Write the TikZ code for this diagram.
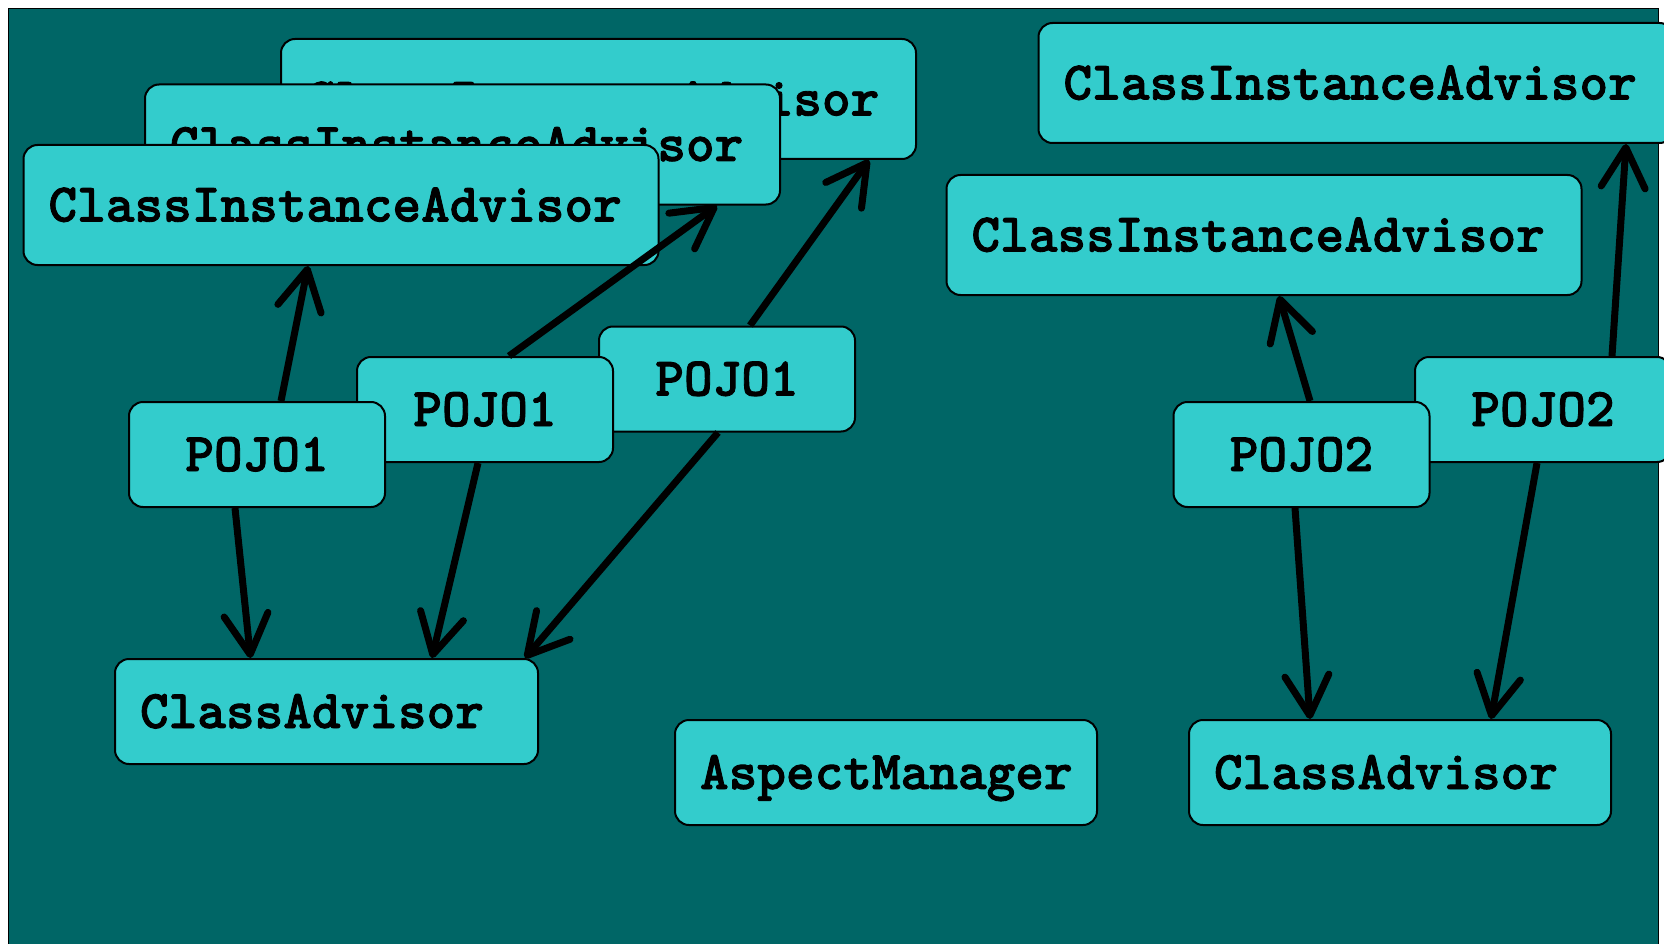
\documentclass[tikz,border=0pt]{standalone}
\usepackage{fontspec}
\usetikzlibrary{arrows.meta}
\newfontfamily\boxfont{lmmonolt10-bold.otf}[FakeBold=1.6]
\definecolor{bgteal}{RGB}{0,102,102}
\definecolor{boxcyan}{RGB}{51,204,204}
\tikzset{
  box/.style={draw=black, line width=2pt, fill=boxcyan, rounded corners=14pt,
    font=\boxfont\fontsize{54.6}{60}\selectfont,
    text height=33pt, text depth=0pt, inner ysep=0pt},
  widebox/.style={box, inner xsep=25pt, text width=#1, align=left},
  ciabox/.style={widebox=585pt, minimum height=120pt},
  pojobox/.style={box, minimum width=256pt, minimum height=105pt, align=center},
  lowbox/.style={widebox=#1, minimum height=105pt},
  link/.style={draw=black, line width=7pt,
    -{Straight Barb[length=40pt,width=44pt,round]}}
}
\begin{document}
\begin{tikzpicture}[x=1pt, y=-1pt]
  \useasboundingbox (0,0) rectangle (1664,944);
  \fill[white] (0,0) rectangle (1664,944);
  \draw[line width=1.2pt, fill=bgteal] (8.5,8.5) rectangle (1658.5,960);

  % stacked advisors, back to front
  \node[ciabox] (cia1) at (598.5,99) {ClassInstanceAdvisor};
  \node[ciabox] (cia2) at (462.5,144.5) {ClassInstanceAdvisor};
  \node[ciabox] (cia3) at (341,205) {ClassInstanceAdvisor};

  % POJO1 instances, back to front
  \node[pojobox] (pc) at (727,379) {POJO1};
  \node[pojobox] (pb) at (485,409.5) {POJO1};
  \node[pojobox] (pa) at (257,454.5) {POJO1};

  % right-hand advisors
  \node[ciabox] (cia4) at (1356,83) {ClassInstanceAdvisor};
  \node[ciabox] (cia5) at (1264,235) {ClassInstanceAdvisor};

  % POJO2 instances
  \node[pojobox] (pe) at (1543,409.5) {POJO2};
  \node[pojobox] (pd) at (1301.5,454.5) {POJO2};

  % bottom row
  \node[lowbox=373pt] (ca1) at (326.5,711.5) {ClassAdvisor};
  \node[lowbox=372pt] (am) at (886,772.5) {AspectManager};
  \node[lowbox=372pt] (ca2) at (1400,772.5) {ClassAdvisor};

  % links
  \draw[link] ([xshift=24pt]pa.north) -- ([xshift=-33pt]cia3.south);
  \draw[link] ([xshift=-22pt]pa.south) -- ([xshift=-76pt]ca1.north);
  \draw[link] ([xshift=24pt]pb.north) -- ([xshift=254.5pt]cia2.south);
  \draw[link] ([xshift=-7pt]pb.south) -- ([xshift=105.5pt]ca1.north);
  \draw[link] ([xshift=23pt]pc.north) -- ([xshift=270.5pt]cia1.south);
  \draw[link] ([xshift=-9pt]pc.south) -- ([xshift=198.5pt]ca1.north);
  \draw[link] ([xshift=8.5pt]pd.north) -- ([xshift=15pt]cia5.south);
  \draw[link] ([xshift=-6.5pt]pd.south) -- ([xshift=-90pt]ca2.north);
  \draw[link] ([xshift=69pt]pe.north) -- ([xshift=270pt]cia4.south);
  \draw[link] ([xshift=-6pt]pe.south) -- ([xshift=91pt]ca2.north);
\end{tikzpicture}
\end{document}
